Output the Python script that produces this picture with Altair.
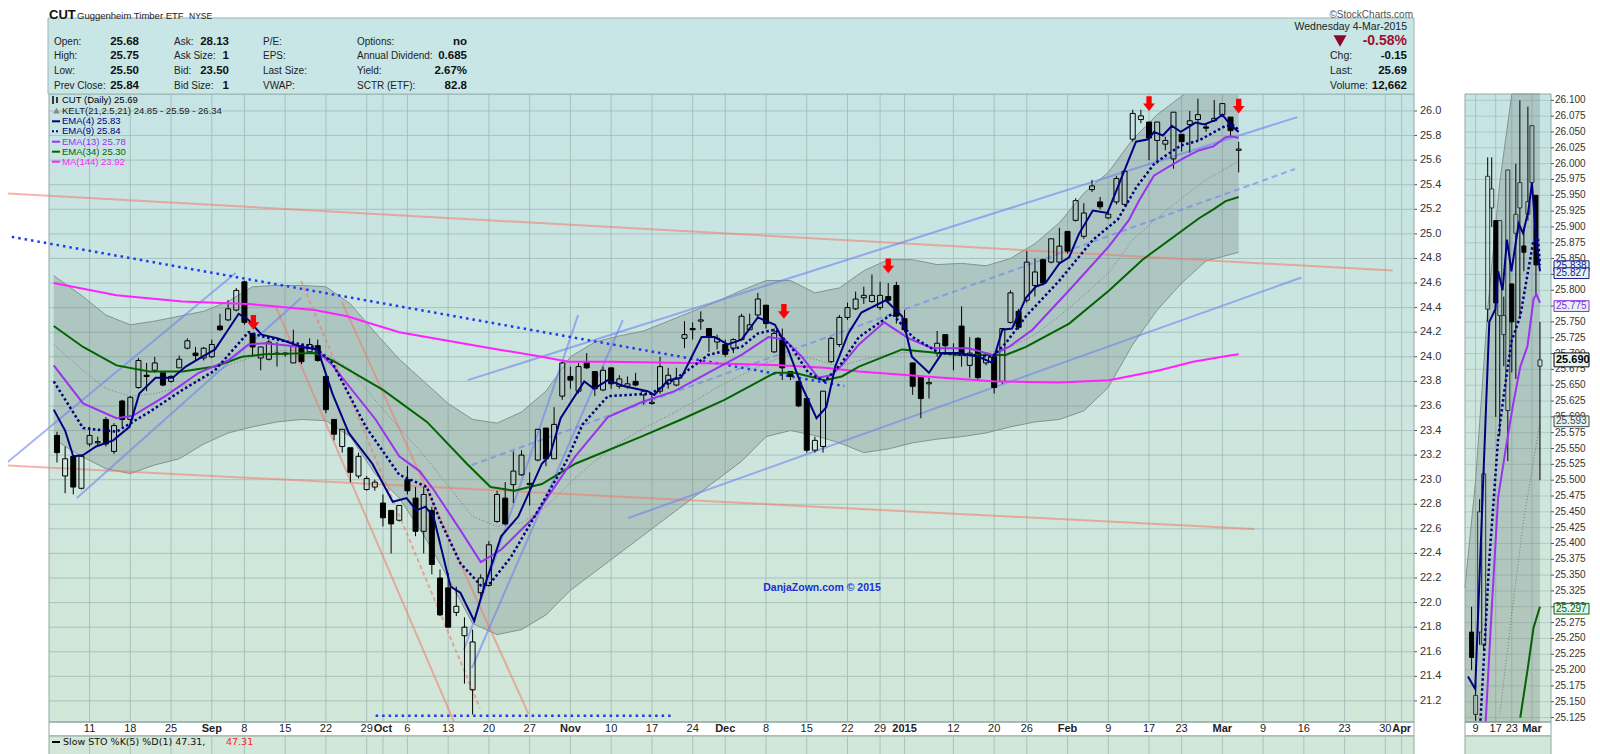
import altair as alt
import pandas as pd

W, H = 1365, 628
SANS = "Liberation Sans, Arial, sans-serif"
DEJAVU = "DejaVu Sans, Verdana, sans-serif"

# ---------------- candles (trading-day index 0 = 5 Aug 2014 ... 145 = 4 Mar 2015) -------------
day_idx = list(range(146))
opens = [23.36,23.03,23.19,22.93,23.29,23.30,23.49,23.23,23.64,23.49,
         23.75,23.85,23.89,23.87,23.80,23.91,24.07,24.03,23.99,24.00,
         24.25,24.30,24.38,24.61,24.19,23.99,23.98,24.03,24.02,23.95,
         24.09,24.04,24.09,23.84,23.49,23.27,23.26,23.03,22.92,22.94,
         22.81,22.75,22.67,23.00,22.85,22.58,22.75,22.20,22.12,21.92,
         21.73,21.29,22.08,22.14,22.66,22.85,22.96,23.04,22.96,23.16,
         23.42,23.17,23.68,23.84,23.72,23.96,23.88,23.73,23.91,23.76,
         23.76,23.80,23.69,23.62,23.72,23.78,23.77,24.15,24.23,24.29,
         24.23,24.12,24.10,24.07,24.14,24.22,24.34,24.42,24.04,24.15,
         23.88,23.80,23.66,23.24,23.27,23.96,24.10,24.32,24.39,24.48,
         24.45,24.40,24.49,24.58,24.31,23.95,23.84,23.78,24.03,24.18,
         24.03,24.25,23.93,24.15,23.95,24.00,23.80,24.28,24.37,24.46,
         24.58,24.79,24.77,24.77,25.02,25.11,24.98,25.36,25.26,25.13,
         25.26,25.24,25.77,25.93,25.91,25.76,25.73,25.61,25.81,25.89,
         25.93,25.87,25.92,25.97,25.95,25.68]
highs = [23.39,23.27,23.20,23.20,23.43,23.35,23.51,23.46,23.65,23.68,
         23.99,23.95,24.00,23.88,23.85,24.01,24.15,24.08,24.08,24.14,
         24.35,24.46,24.56,24.62,24.19,24.08,24.14,24.12,24.04,24.22,
         24.10,24.15,24.14,23.85,23.49,23.41,23.26,23.22,23.03,23.00,
         22.88,22.75,22.79,23.11,22.94,22.94,22.78,22.27,22.24,22.13,
         21.88,21.78,22.23,22.50,22.91,22.98,23.23,23.24,23.06,23.41,
         23.42,23.59,23.96,23.92,23.95,24.03,23.88,23.92,23.91,23.85,
         23.84,23.87,23.73,23.69,24.00,23.91,23.91,24.29,24.28,24.37,
         24.23,24.18,24.14,24.15,24.35,24.35,24.52,24.42,24.23,24.23,
         23.88,23.80,23.66,23.35,23.72,24.16,24.34,24.44,24.53,24.57,
         24.67,24.61,24.60,24.61,24.38,23.95,23.84,23.83,24.21,24.18,
         24.11,24.41,24.16,24.16,24.03,24.03,24.23,24.54,24.39,24.86,
         24.80,24.80,24.96,25.05,25.02,25.29,25.25,25.44,25.30,25.18,
         25.47,25.52,26.01,26.01,25.91,25.91,25.79,25.99,25.81,26.00,
         26.10,25.90,26.09,26.06,25.95,25.75]
lows = [23.14,22.89,22.88,22.92,23.27,23.28,23.27,23.21,23.43,23.47,
        23.74,23.72,23.87,23.76,23.79,23.91,24.06,23.97,23.97,23.99,
        24.21,24.29,24.37,24.26,24.00,23.89,23.97,23.92,24.00,23.95,
        23.94,24.03,23.96,23.54,23.32,23.22,22.98,23.01,22.91,22.91,
        22.62,22.40,22.66,22.88,22.54,22.40,22.23,21.89,21.80,21.89,
        21.34,21.09,22.05,22.13,22.65,22.63,22.81,23.03,22.79,23.15,
        23.11,23.17,23.65,23.74,23.70,23.90,23.68,23.72,23.74,23.74,
        23.74,23.76,23.61,23.61,23.70,23.74,23.76,24.07,24.14,24.22,
        24.04,24.06,24.00,24.03,24.14,24.22,24.31,24.23,24.03,23.81,
        23.81,23.59,23.22,23.22,23.22,23.95,24.08,24.30,24.38,24.43,
        24.44,24.38,24.44,24.27,24.20,23.69,23.50,23.66,24.00,24.03,
        23.89,23.92,23.83,23.81,23.93,23.70,23.78,24.27,24.22,24.44,
        24.49,24.58,24.76,24.75,24.84,25.10,24.96,25.34,25.20,25.12,
        25.24,25.23,25.75,25.90,25.60,25.57,25.68,25.53,25.67,25.66,
        25.76,25.83,25.91,25.96,25.79,25.50]
closes = [23.22,23.17,22.94,23.19,23.36,23.31,23.29,23.44,23.49,23.67,
          23.97,23.84,23.95,23.77,23.84,23.98,24.13,24.01,24.07,24.10,
          24.22,24.39,24.54,24.28,24.08,24.08,24.12,24.02,24.03,24.09,
          23.96,24.10,23.97,23.57,23.37,23.41,23.06,23.19,23.01,22.98,
          22.69,22.64,22.79,22.91,22.58,22.88,22.31,21.90,21.80,21.97,
          21.80,21.68,22.20,22.47,22.88,22.64,23.07,23.20,22.97,23.41,
          23.17,23.45,23.95,23.81,23.92,23.91,23.74,23.89,23.78,23.82,
          23.78,23.77,23.72,23.63,23.92,23.85,23.82,24.18,24.22,24.30,
          24.16,24.15,24.02,24.14,24.33,24.26,24.47,24.27,24.19,23.91,
          23.84,23.60,23.24,23.32,23.72,24.15,24.32,24.40,24.47,24.50,
          24.50,24.50,24.46,24.33,24.22,23.76,23.66,23.79,24.11,24.09,
          24.02,24.03,24.03,23.83,24.02,23.75,24.23,24.52,24.24,24.77,
          24.69,24.60,24.96,24.90,24.86,25.27,25.17,25.39,25.22,25.16,
          25.45,25.51,25.98,25.96,25.78,25.91,25.76,25.99,25.75,25.92,
          25.97,25.86,25.94,26.06,25.84,25.69]

# ---------------- indicator lines ----------------
ema4_x = [-0.4,1,2,3.2,4.8,6.9,8.9,10.1,12.1,14.2,15.8,17.8,19.4,21,22.3,23.5,25.1,27.1,30,32,
          33.8,35.8,38.7,41.2,42.9,44.1,45.2,46.2,48.3,49.5,51.2,52.2,54.5,56.6,59.5,60.5,61.8,
          64.7,65.9,67.6,69.6,72.5,73.3,75,76.6,79.1,80.7,82.3,84,86,88.1,89.7,91.4,93.2,94.4,
          95.5,97.1,98.7,101.7,103.7,104.9,107,108.6,110.7,113.1,114.8,116,117.2,118.9,120.1,
          121.3,123,124.2,125.4,127.1,128.9,132.4,133.9,134.6,135.7,136.8,137.9,139.7,140.8,
          142.1,143,144,145]
ema4_v = [23.57,23.40,23.19,23.20,23.27,23.32,23.43,23.70,23.83,23.83,23.92,24.00,24.06,24.22,24.35,
          24.30,24.18,24.15,24.08,24.06,23.70,23.38,23.13,22.82,22.85,22.75,22.78,22.70,22.13,22.08,
          21.85,22.08,22.54,22.70,23.13,23.20,23.50,23.80,23.74,23.81,23.76,23.72,23.69,23.81,23.83,
          24.16,24.16,24.10,24.14,24.32,24.26,24.06,23.76,23.50,23.59,23.92,24.19,24.36,24.46,24.33,
          24.00,23.87,24.03,24.03,24.00,23.95,24.22,24.23,24.48,24.57,24.60,24.76,24.81,25.00,25.19,
          25.17,25.75,25.77,25.83,25.80,25.88,25.83,25.905,25.89,25.925,25.97,25.885,25.83]
ema9_x = [-0.4,3.2,7.3,9.3,11.3,15.4,19.4,21.9,23.5,25.5,31.6,33.8,37.9,42,45.4,47,49.5,52,53.2,
          55.7,58.6,62.5,64.5,67.6,72.9,77,79.9,84,86,88.1,90.1,92.2,94.2,96.3,98.4,102.5,105,
          108.3,114.8,116.4,118.9,123,127.1,130.2,132.4,134.6,136.1,137.9,140.1,141.9,143.4,144.5,145]
ema9_v = [23.80,23.42,23.39,23.47,23.55,23.73,23.89,24.08,24.20,24.16,24.08,23.95,23.43,23.04,22.94,
          22.67,22.32,22.14,22.16,22.37,22.70,23.15,23.45,23.68,23.70,23.87,24.015,24.08,24.19,24.22,
          24.08,23.87,23.80,23.95,24.16,24.35,24.16,24.03,24.00,24.11,24.33,24.62,24.95,25.12,25.374,
          25.566,25.639,25.719,25.759,25.825,25.879,25.882,25.84]
ema13_x = [-0.4,3.2,7.3,9.3,13.3,17.4,21,23.5,25.5,31.6,33.8,39.1,42,44.5,46.2,49.5,52,54.5,58.6,
           63.6,67.6,71.7,75.8,79.9,84,87.3,89.3,91.4,93.4,95,96.3,98.4,101.5,104.5,107.4,111.9,
           114.8,116.8,119.7,124.6,129.1,131.5,132.8,134.6,136.4,138.3,140.1,141.9,143.4,144.1,145]
ema13_v = [23.93,23.62,23.50,23.52,23.68,23.87,23.97,24.10,24.11,24.07,23.93,23.49,23.19,23.07,22.92,
           22.59,22.33,22.43,22.70,23.19,23.51,23.63,23.72,23.87,24.015,24.16,24.14,24.00,23.83,23.85,
           23.93,24.10,24.28,24.15,24.07,24.07,24.015,24.08,24.22,24.57,24.90,25.11,25.274,25.473,
           25.546,25.619,25.679,25.712,25.786,25.794,25.78]
ema34_x = [-0.4,3.2,7.3,11.3,15.4,19.4,22.7,25.5,31.6,33.8,40,45.4,50.3,53.2,56.1,59.5,63.6,71.7,
           76.6,81.9,88.1,90.5,94.2,96.3,98.4,103.7,110.7,116.4,118.9,124.2,129.1,133.2,140.1,141.9,
           143.4,145]
ema34_v = [24.25,24.08,23.93,23.88,23.88,23.92,24.00,24.02,24.03,23.97,23.73,23.47,23.13,22.94,22.91,
           22.965,23.13,23.35,23.49,23.65,23.87,23.87,23.81,23.84,23.92,24.06,24.015,24.015,24.08,
           24.27,24.54,24.79,25.125,25.20,25.267,25.30]
ma144_x = [-0.4,7.3,15.4,23.5,31.6,35.6,42,53.2,58.6,62.8,67.6,79.9,88,94.2,98.4,106.6,114.8,123,
           129.1,135.3,139.4,143.9,145]
ma144_v = [24.60,24.50,24.45,24.43,24.38,24.33,24.20,24.07,24.01,23.96,23.96,23.947,23.933,23.91,23.88,
           23.84,23.80,23.79,23.81,23.89,23.96,24.01,24.02]

# Keltner channel (21, 2.5, 21)
kelt_x = [-0.4,3,6,9,12,15,18,21,24,27,30,33,36,39,42,45,48,51,54,57,60,63,66,69,72,75,78,81,84,87,
          90,93,96,99,102,105,108,111,114,117,120,123,126,129,132,135,138,141,145]
kelt_up = [24.66,24.50,24.34,24.26,24.29,24.33,24.37,24.45,24.57,24.58,24.58,24.57,24.43,24.20,23.98,
           23.80,23.62,23.49,23.46,23.55,23.72,24.00,24.12,24.17,24.21,24.29,24.37,24.45,24.54,24.62,
           24.62,24.52,24.56,24.70,24.79,24.79,24.75,24.76,24.74,24.80,24.92,25.09,25.33,25.50,25.77,
           25.97,26.12,26.24,26.34]
kelt_mid = [24.10,23.90,23.74,23.68,23.70,23.75,23.82,23.93,24.00,24.05,24.05,24.02,23.90,23.65,23.42,
            23.20,22.95,22.70,22.62,22.65,22.78,22.98,23.15,23.30,23.42,23.52,23.63,23.75,23.85,23.95,
            24.02,23.98,23.92,23.98,24.02,24.04,24.03,24.02,24.03,24.08,24.18,24.33,24.50,24.68,24.95,
            25.13,25.29,25.44,25.59]
kelt_lo = [23.33,23.19,23.09,23.05,23.12,23.17,23.29,23.38,23.43,23.47,23.49,23.48,23.35,23.05,22.85,
           22.55,22.20,21.83,21.74,21.78,21.90,22.10,22.25,22.40,22.55,22.70,22.85,23.00,23.15,23.35,
           23.40,23.36,23.30,23.22,23.25,23.30,23.33,23.35,23.38,23.43,23.47,23.49,23.56,23.75,24.10,
           24.38,24.60,24.78,24.85]

# hand-drawn trend lines: start index, start price, end index, end price
blue_solid = pd.DataFrame({
    "x1": [-6.33, 2.44, 49.94, 50.91, 50.4, 70.1],
    "y1": [23.128, 22.851, 21.614, 21.468, 23.81, 22.688],
    "x2": [21.92, 29.96, 63.95, 69.43, 152.2, 152.7],
    "y2": [24.682, 24.478, 24.340, 24.299, 25.95, 24.645]})
blue_dash = pd.DataFrame({"x1": [50.9], "y1": [23.12], "x2": [151.9], "y2": [25.528]})
blue_dot = pd.DataFrame({"x1": [-6.33, 39.1], "y1": [24.985, 21.08], "x2": [96.6, 75.6], "y2": [23.762, 21.08]})
salmon_solid = pd.DataFrame({
    "x1": [-6.33, -6.33, 26.92, 34.96],
    "y1": [25.330, 23.116, 24.397, 24.446],
    "x2": [163.9, 146.9, 48.72, 57.86],
    "y2": [24.701, 22.599, 21.03, 21.095]})
salmon_dash = pd.DataFrame({"x1": [29.96], "y1": [24.617], "x2": [51.89], "y2": [21.142]})

arrow_x = [24.1, 89.2, 102, 134, 145]
arrow_v = [24.28, 24.37, 24.74, 26.06, 26.04]

# axes
y_ticks = [21.2,21.4,21.6,21.8,22.0,22.2,22.4,22.6,22.8,23.0,23.2,23.4,23.6,23.8,24.0,24.2,24.4,24.6,
           24.8,25.0,25.2,25.4,25.6,25.8,26.0]
x_tick_idx = [4,9,14,19,23,28,33,38,40,43,48,53,58,63,68,73,78,82,87,92,97,101,104,110,115,119,124,
              129,134,138,143,148,153,158,163,165]
x_tick_lbl = ["11","18","25","Sep","8","15","22","29","Oct","6","13","20","27","Nov","10","17","24",
              "Dec","8","15","22","29","2015","12","20","26","Feb","9","17","23","Mar","9","16","23",
              "30","Apr"]
month_lbls = ["Sep","Oct","Nov","Dec","2015","Feb","Mar","Apr"]
inset_ticks = [25.125,25.150,25.175,25.200,25.225,25.250,25.275,25.300,25.325,25.350,25.375,25.400,
               25.425,25.450,25.475,25.500,25.525,25.550,25.575,25.600,25.625,25.650,25.675,25.700,
               25.725,25.750,25.775,25.800,25.825,25.850,25.875,25.900,25.925,25.950,25.975,26.000,
               26.025,26.050,26.075,26.100]
inset_x_idx = [129, 134, 138, 143]
inset_x_lbl = ["9", "17", "23", "Mar"]
tag_vals = [25.838, 25.827, 25.775, 25.690, 25.593, 25.297]
tag_txt = ["25.838", "25.827", "25.775", "25.690", "25.593", "25.297"]
tag_col = ["#1a1a8c", "#1a1a8c", "#8a2be2", "#000000", "#444444", "#006400"]

# header texts
hdr_c1 = [("Open:", "25.68"), ("High:", "25.75"), ("Low:", "25.50"), ("Prev Close:", "25.84")]
hdr_c2 = [("Ask:", "28.13"), ("Ask Size:", "1"), ("Bid:", "23.50"), ("Bid Size:", "1")]
hdr_c3 = ["P/E:", "EPS:", "Last Size:", "VWAP:"]
hdr_c4 = [("Options:", "no"), ("Annual Dividend:", "0.685"), ("Yield:", "2.67%"), ("SCTR (ETF):", "82.8")]
hdr_r = [("Chg:", "-0.15"), ("Last:", "25.69"), ("Volume:", "12,662")]
legend_rows = [("CUT (Daily) 25.69", "#000000"),
               ("KELT(21,2.5,21) 24.85 - 25.59 - 26.34", "#222222"),
               ("EMA(4) 25.83", "#000080"),
               ("EMA(9) 25.84", "#000080"),
               ("EMA(13) 25.78", "#9933ee"),
               ("EMA(34) 25.30", "#006400"),
               ("MA(144) 23.92", "#ff22ff")]

# ---------------- helpers ----------------
one = pd.DataFrame({"k": [0]})
MX = alt.Scale(domain=[-0.365, 165.9], nice=False, zero=False)
MY = alt.Scale(domain=[21.0285, 26.138], nice=False, zero=False)
IX = alt.Scale(domain=[127.6, 146.5], range=[1416, 1502], nice=False, zero=False, clamp=True)
IY = alt.Scale(domain=[25.118, 26.110], range=[H, 0], nice=False, zero=False, clamp=True)
GRID = "#9fb9b5"
BORDER = "#8ea8a5"


def grad(c0, c1):
    return alt.LinearGradient(gradient="linear",
                              stops=[alt.GradientStop(color=c0, offset=0),
                                     alt.GradientStop(color=c1, offset=1)],
                              x1=0, x2=0, y1=0, y2=1)


def prect(x1, x2, y1, y2, **kw):
    return alt.Chart(one).mark_rect(**kw).encode(
        x=alt.value(x1), x2=alt.value(x2), y=alt.value(y1), y2=alt.value(y2))


def prule(x1, x2, y1, y2, **kw):
    return alt.Chart(one).mark_rule(**kw).encode(
        x=alt.value(x1), x2=alt.value(x2), y=alt.value(y1), y2=alt.value(y2))


def ptext(x, y, s, **kw):
    kw.setdefault("baseline", "middle")
    kw.setdefault("font", SANS)
    return alt.Chart(one).mark_text(**kw).encode(
        x=alt.value(x), y=alt.value(y), text=alt.value(s))


cdf = pd.DataFrame({"i": day_idx, "o": opens, "h": highs, "l": lows, "c": closes})


def candles(xs, ys, start=None, width=5, upstroke="black"):
    base = alt.Chart(cdf)
    if start is not None:
        base = base.transform_filter(f"datum.i >= {start}")
    base = base.transform_calculate(top="max(datum.o, datum.c)", bot="min(datum.o, datum.c)")
    X = alt.X("i:Q", scale=xs, axis=None)
    hi = base.mark_rule(color="black", strokeWidth=1).encode(
        x=X, y=alt.Y("h:Q", scale=ys, axis=None), y2="top:Q")
    lo = base.mark_rule(color="black", strokeWidth=1).encode(
        x=X, y=alt.Y("bot:Q", scale=ys, axis=None), y2="l:Q")
    up = base.transform_filter("datum.c >= datum.o").mark_bar(
        size=width, fill="white", fillOpacity=0, stroke=upstroke, strokeWidth=1).encode(
        x=X, y=alt.Y("top:Q", scale=ys, axis=None), y2="bot:Q")
    dn = base.transform_filter("datum.c < datum.o").mark_bar(
        size=width, color="black", stroke="black", strokeWidth=1).encode(
        x=X, y=alt.Y("top:Q", scale=ys, axis=None), y2="bot:Q")
    return [hi, lo, up, dn]


def line(xv, yv, xs, ys, start=None, **kw):
    df = pd.DataFrame({"x": xv, "v": yv})
    ch = alt.Chart(df)
    if start is not None:
        ch = ch.transform_filter(f"datum.x >= {start}")
    return ch.mark_line(**kw).encode(x=alt.X("x:Q", scale=xs, axis=None),
                                     y=alt.Y("v:Q", scale=ys, axis=None))


def segs(df, **kw):
    return alt.Chart(df).mark_rule(**kw).encode(
        x=alt.X("x1:Q", scale=MX, axis=None), x2="x2:Q",
        y=alt.Y("y1:Q", scale=MY, axis=None), y2="y2:Q")


kdf = pd.DataFrame({"x": kelt_x, "up": kelt_up, "mid": kelt_mid, "lo": kelt_lo})


def band(xs, ys, start=None):
    ch = alt.Chart(kdf)
    if start is not None:
        ch = ch.transform_filter(f"datum.x >= {start}")
    X = alt.X("x:Q", scale=xs, axis=None)
    area = ch.mark_area(color="#6d7e7b", opacity=0.3).encode(
        x=X, y=alt.Y("up:Q", scale=ys, axis=None), y2="lo:Q")
    u = ch.mark_line(color="#84928f", strokeWidth=1).encode(x=X, y=alt.Y("up:Q", scale=ys, axis=None))
    lw = ch.mark_line(color="#84928f", strokeWidth=1).encode(x=X, y=alt.Y("lo:Q", scale=ys, axis=None))
    return [area, u, lw]


ARROW = "M-0.36,-1 L0.36,-1 L0.36,0 L0.8,0 L0,1 L-0.8,0 L-0.36,0 Z"

# ---------------- main panel ----------------
main = []
main.append(prect(0, W, 0, H, fill=grad("#c6e4e5", "#d2e7d7")))
main.append(prect(0, W, H, H + 14, fill="white", stroke=BORDER, strokeWidth=1))
main.append(prect(0, W, H + 14, H + 40, fill="#d2e7d8", stroke=BORDER, strokeWidth=1))

ydf = pd.DataFrame({"v": y_ticks})
xdf = pd.DataFrame({"i": x_tick_idx, "lbl": x_tick_lbl})
xdf["m"] = xdf["lbl"].isin(month_lbls)

main.append(alt.Chart(ydf).mark_rule(color=GRID, strokeWidth=1, opacity=0.8).encode(
    y=alt.Y("v:Q", scale=MY, axis=None), x=alt.value(0), x2=alt.value(W)))
main.append(alt.Chart(xdf).mark_rule(color=GRID, strokeWidth=1, opacity=0.8).encode(
    x=alt.X("i:Q", scale=MX, axis=None), y=alt.value(0), y2=alt.value(H)))
main.append(alt.Chart(xdf).mark_rule(color=GRID, strokeWidth=1, opacity=0.8).encode(
    x=alt.X("i:Q", scale=MX, axis=None), y=alt.value(H + 14), y2=alt.value(H + 32)))

main += band(MX, MY)
main.append(alt.Chart(kdf).mark_line(color="#7a7a7a", strokeWidth=1, strokeDash=[1, 2]).encode(
    x=alt.X("x:Q", scale=MX, axis=None), y=alt.Y("mid:Q", scale=MY, axis=None)))

main.append(segs(salmon_solid, color="#f07a68", strokeWidth=2, opacity=0.55))
main.append(segs(salmon_dash, color="#f07a68", strokeWidth=2, opacity=0.6, strokeDash=[4, 3]))
main.append(segs(blue_solid, color="#6a82f2", strokeWidth=2, opacity=0.6))
main.append(segs(blue_dash, color="#6a82f2", strokeWidth=2, opacity=0.6, strokeDash=[6, 4]))
main.append(segs(blue_dot, color="#1f3bf0", strokeWidth=2.5, strokeDash=[2.5, 4]))

main += candles(MX, MY, width=5)

main.append(line(ma144_x, ma144_v, MX, MY, color="#ff22ff", strokeWidth=2))
main.append(line(ema34_x, ema34_v, MX, MY, color="#006400", strokeWidth=2))
main.append(line(ema13_x, ema13_v, MX, MY, color="#9933ee", strokeWidth=2))
main.append(line(ema9_x, ema9_v, MX, MY, color="#000080", strokeWidth=2.5, strokeDash=[2.5, 2.5]))
main.append(line(ema4_x, ema4_v, MX, MY, color="#000080", strokeWidth=2))

adf = pd.DataFrame({"x": arrow_x, "v": arrow_v})
main.append(alt.Chart(adf).mark_point(shape=ARROW, size=220, filled=True, color="#ff0000", opacity=1).encode(
    x=alt.X("x:Q", scale=MX, axis=None), y=alt.Y("v:Q", scale=MY, axis=None)))

main.append(ptext(773, 494, "DanjaZown.com © 2015", fontSize=10.5, fontWeight="bold",
                  color="#2030d0", align="center"))

# axis labels
main.append(alt.Chart(ydf).mark_rule(color="#555555", strokeWidth=1).encode(
    y=alt.Y("v:Q", scale=MY, axis=None), x=alt.value(W), x2=alt.value(W + 3)))
main.append(alt.Chart(ydf).mark_text(align="left", baseline="middle", font=SANS, fontSize=11,
                                     color="#333333").encode(
    y=alt.Y("v:Q", scale=MY, axis=None), x=alt.value(W + 6), text=alt.Text("v:Q", format=".1f")))
main.append(alt.Chart(xdf).transform_filter("!datum.m").mark_text(
    align="center", baseline="middle", font=SANS, fontSize=11, color="#222222").encode(
    x=alt.X("i:Q", scale=MX, axis=None), y=alt.value(H + 7), text="lbl:N"))
main.append(alt.Chart(xdf).transform_filter("datum.m").mark_text(
    align="center", baseline="middle", font=SANS, fontSize=11, fontWeight="bold", color="#222222").encode(
    x=alt.X("i:Q", scale=MX, axis=None), y=alt.value(H + 7), text="lbl:N"))

# plot border
main.append(prect(0, W, 0, H, fillOpacity=0, stroke=BORDER, strokeWidth=1))

# in-plot legend
leg_y = [6, 16.7, 27.3, 37.3, 47.7, 57.7, 67.7]
for (txt, col), yy in zip(legend_rows, leg_y):
    main.append(ptext(13, yy, txt, fontSize=9.5, color=col, align="left"))
main.append(prule(4, 4, 2, 10, color="black", strokeWidth=1.5))
main.append(prule(8, 8, 3, 9, color="black", strokeWidth=1.5))
main.append(alt.Chart(one).mark_point(shape="triangle-up", size=45, filled=True, color="#888888",
                                      opacity=1).encode(x=alt.value(7.5), y=alt.value(16.7)))
main.append(prule(3, 11, 27.3, 27.3, color="#000080", strokeWidth=2))
main.append(prule(3, 11, 37.3, 37.3, color="#000080", strokeWidth=2, strokeDash=[2, 2]))
main.append(prule(3, 11, 47.7, 47.7, color="#9933ee", strokeWidth=2))
main.append(prule(3, 11, 57.7, 57.7, color="#006400", strokeWidth=2))
main.append(prule(3, 11, 67.7, 67.7, color="#ff22ff", strokeWidth=2))

# STO legend
main.append(prule(3, 11, H + 20, H + 20, color="black", strokeWidth=2))
main.append(ptext(14, H + 20, "Slow STO %K(5) %D(1) 47.31,", font=DEJAVU, fontSize=9.5,
                  color="#111111", align="left"))
main.append(ptext(177, H + 20, "47.31", font=DEJAVU, fontSize=9.5, color="#ff2222", align="left"))

# header box
main.append(prect(-1, W, -76, 0, fill="#c8e6e6", stroke="#9db5b3", strokeWidth=1))
main.append(ptext(0, -79, "CUT", fontSize=13, fontWeight="bold", color="#111111", align="left"))
main.append(ptext(28, -78, "Guggenheim Timber ETF", fontSize=9.5, color="#222222", align="left"))
main.append(ptext(140, -78, "NYSE", fontSize=8.5, color="#222222", align="left"))
main.append(ptext(1364, -79, "©StockCharts.com", fontSize=10, color="#555555", align="right"))

rows_y = [-52, -38, -23, -8]
for (lab, val), yy in zip(hdr_c1, rows_y):
    main.append(ptext(5, yy, lab, fontSize=10, color="#222222", align="left"))
    main.append(ptext(90, yy, val, fontSize=11.5, fontWeight="bold", color="#111111", align="right"))
for (lab, val), yy in zip(hdr_c2, rows_y):
    main.append(ptext(125, yy, lab, fontSize=10, color="#222222", align="left"))
    main.append(ptext(180, yy, val, fontSize=11.5, fontWeight="bold", color="#111111", align="right"))
for lab, yy in zip(hdr_c3, rows_y):
    main.append(ptext(214, yy, lab, fontSize=10, color="#222222", align="left"))
for (lab, val), yy in zip(hdr_c4, rows_y):
    main.append(ptext(308, yy, lab, fontSize=10, color="#222222", align="left"))
    main.append(ptext(418, yy, val, fontSize=11.5, fontWeight="bold", color="#111111", align="right"))

main.append(ptext(1358, -67, "Wednesday   4-Mar-2015", fontSize=10.5, color="#222222", align="right"))
main.append(alt.Chart(one).mark_point(shape="triangle-down", size=170, filled=True, color="#8b0a2c",
                                      opacity=1).encode(x=alt.value(1291), y=alt.value(-53)))
main.append(ptext(1358, -53, "-0.58%", fontSize=14, fontWeight="bold", color="#a0102e", align="right"))
for (lab, val), yy in zip(hdr_r, rows_y[1:]):
    main.append(ptext(1281, yy, lab, fontSize=10.5, color="#222222", align="left"))
    main.append(ptext(1358, yy, val, fontSize=11.5, fontWeight="bold", color="#111111", align="right"))

# ---------------- inset (zoomed last weeks) ----------------
ins = []
ins.append(prect(1416, 1502, 0, H, fill=grad("#c6e4e5", "#d2e7d7")))
ins.append(prect(1416, 1502, H, H + 14, fill="white", stroke=BORDER, strokeWidth=1))
ins.append(prect(1416, 1502, H + 14, H + 40, fill="#d2e7d8", stroke=BORDER, strokeWidth=1))
idf = pd.DataFrame({"v": inset_ticks})
ixdf = pd.DataFrame({"i": inset_x_idx, "lbl": inset_x_lbl})
ins.append(alt.Chart(idf).mark_rule(color=GRID, strokeWidth=1, opacity=0.6).encode(
    y=alt.Y("v:Q", scale=IY, axis=None), x=alt.value(1416), x2=alt.value(1502)))
ins.append(alt.Chart(ixdf).mark_rule(color=GRID, strokeWidth=1, opacity=0.8).encode(
    x=alt.X("i:Q", scale=IX, axis=None), y=alt.value(0), y2=alt.value(H)))
ins += band(IX, IY, start=125)
ins.append(alt.Chart(kdf).transform_filter("datum.x >= 135").mark_line(
    color="#7a7a7a", strokeWidth=1, strokeDash=[1, 2]).encode(
    x=alt.X("x:Q", scale=IX, axis=None), y=alt.Y("mid:Q", scale=IY, axis=None)))
ins += candles(IX, IY, start=128, width=4, upstroke="#333333")
ins.append(line(ema34_x, ema34_v, IX, IY, start=140, color="#006400", strokeWidth=2))
ins.append(line(ema13_x, ema13_v, IX, IY, start=131, color="#9933ee", strokeWidth=2))
ins.append(line(ema9_x, ema9_v, IX, IY, start=130, color="#000080", strokeWidth=2.5, strokeDash=[2.5, 2.5]))
ins.append(line(ema4_x, ema4_v, IX, IY, start=127, color="#000080", strokeWidth=2))
ins.append(prect(1416, 1502, 0, H, fillOpacity=0, stroke=BORDER, strokeWidth=1))
ins.append(alt.Chart(idf).mark_rule(color="#555555", strokeWidth=1).encode(
    y=alt.Y("v:Q", scale=IY, axis=None), x=alt.value(1502), x2=alt.value(1505)))
ins.append(alt.Chart(idf).mark_text(align="left", baseline="middle", font=SANS, fontSize=10,
                                    color="#333333").encode(
    y=alt.Y("v:Q", scale=IY, axis=None), x=alt.value(1506), text=alt.Text("v:Q", format=".3f")))
ins.append(alt.Chart(ixdf).transform_filter("datum.lbl != 'Mar'").mark_text(
    align="center", baseline="middle", font=SANS, fontSize=11, color="#222222").encode(
    x=alt.X("i:Q", scale=IX, axis=None), y=alt.value(H + 7), text="lbl:N"))
ins.append(alt.Chart(ixdf).transform_filter("datum.lbl == 'Mar'").mark_text(
    align="center", baseline="middle", font=SANS, fontSize=11, fontWeight="bold", color="#222222").encode(
    x=alt.X("i:Q", scale=IX, axis=None), y=alt.value(H + 7), text="lbl:N"))
for v, t, c in zip(tag_vals, tag_txt, tag_col):
    tdf = pd.DataFrame({"v": [v], "t": [t]})
    half = 0.011 if t == "25.690" else 0.0085
    base = alt.Chart(tdf).transform_calculate(a=f"datum.v + {half}", b=f"datum.v - {half}")
    ins.append(base.mark_rect(fill="#e4f3f3", stroke=c, strokeWidth=1).encode(
        y=alt.Y("a:Q", scale=IY, axis=None), y2="b:Q", x=alt.value(1505), x2=alt.value(1540)))
    ins.append(alt.Chart(tdf).mark_text(align="left", baseline="middle", font=SANS,
                                        fontSize=11 if t == "25.690" else 10,
                                        fontWeight="bold" if t == "25.690" else "normal",
                                        color=c).encode(
        y=alt.Y("v:Q", scale=IY, axis=None), x=alt.value(1507), text="t:N"))

chart = alt.layer(alt.layer(*main), alt.layer(*ins)).resolve_scale(
    x="independent", y="independent").properties(
    width=W, height=H,
    autosize=alt.AutoSizeParams(type="none"),
    padding={"left": 41, "top": 86, "right": 178, "bottom": 32},
    background="white").configure_view(stroke="transparent")

chart.save("out.html", embed_options={"renderer": "svg", "actions": False})
